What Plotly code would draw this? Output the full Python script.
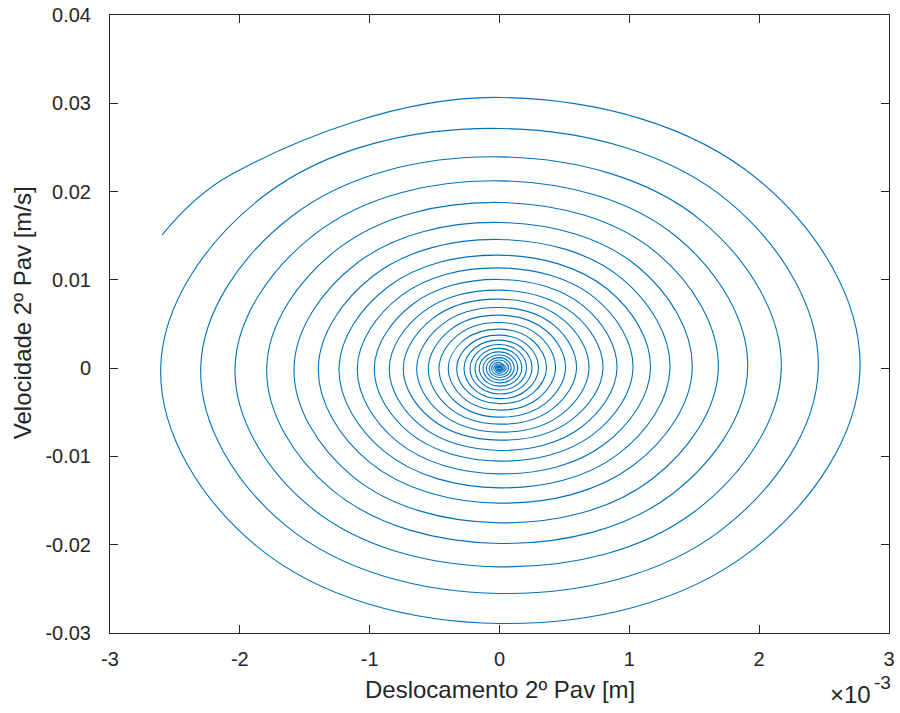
import plotly.graph_objects as go

# Phase-plane points (displacement in units of 1e-3 m, velocity in m/s)
# Outer/middle turns: 8 points per turn (top, NE, right, SE, bottom, SW, left, NW)
desloc_outer_milli = [
    -2.600, -2.0565,
    0.0, 1.9936, 2.7767, 1.9326, 0.0, -1.8736, -2.6096, -1.8163,
    0.0, 1.7630, 2.4555, 1.7091, 0.0, -1.6524, -2.3015, -1.6019,
    0.0, 1.5584, 2.1705, 1.5107, 0.0, -1.4627, -2.0373, -1.4180,
    0.0, 1.3725, 1.9117, 1.3306, 0.0, -1.2874, -1.7931, -1.2480,
    0.0, 1.2100, 1.6853, 1.1730, 0.0, -1.1364, -1.5828, -1.1017,
    0.0, 1.0662, 1.4850, 1.0336, 0.0, -1.0020, -1.3957, -0.9714,
    0.0, 0.9429, 1.3133, 0.9140, 0.0, -0.8876, -1.2362, -0.8604,
    0.0, 0.8350, 1.1631, 0.8095, 0.0, -0.7864, -1.0953, -0.7623,
    0.0, 0.7383, 1.0283, 0.7157, 0.0, -0.6924, -0.9643, -0.6712,
    0.0, 0.6498, 0.9050, 0.6299, 0.0, -0.6094, -0.8488, -0.5908,
    0.0, 0.5724, 0.7972, 0.5549, 0.0, -0.5320, -0.7410, -0.5157,
    0.0, 0.4949, 0.6894, 0.4798, 0.0, -0.4579, -0.6378, -0.4439,
    0.0, 0.4258, 0.5931, 0.4128, 0.0, -0.3937, -0.5484, -0.3817,
    0.0, 0.3650, 0.5084, 0.3538, 0.0, -0.3346, -0.4660, -0.3243,
    0.0, 0.3097, 0.4313, 0.3002, 0.0, -0.2831, -0.3944, -0.2745,
    0.0, 0.2599, 0.3620, 0.2520, 0.0, -0.2367, -0.3297, -0.2295,
    0.0, 0.2157, 0.3004, 0.2091, 0.0, -0.1963, -0.2734, -0.1903,
    0.0, 0.1797, 0.2503, 0.1742, 0.0, -0.1631, -0.2272, -0.1581,
    0.0, 0.1493, 0.2080, 0.1447, 0.0, -0.1355, -0.1887, -0.1313,
    0.0, 0.1233, 0.1718, 0.1196, 0.0, -0.1117, -0.1556, -0.1083,
    0.0, 0.1006, 0.1402, 0.0976, 0.0, -0.0907, -0.1263, -0.0879,
    0.0, 0.0813, 0.1132, 0.0788, 0.0, -0.0724, -0.1009, -0.0702,
    0.0, 0.0641, 0.0893, 0.0622, 0.0, -0.0564, -0.0786, -0.0547,
    0.0, 0.0498, 0.0693, 0.0482, 0.0, -0.0431, -0.0601, -0.0418,
    0.0,
]
veloc_outer = [
    0.01506, 0.02202,
    0.030660, 0.021339, 0.0, -0.020761, -0.028916, -0.020125, 0.0, 0.019492,
    0.027149, 0.018896, 0.0, -0.018321, -0.025518, -0.017760, 0.0, 0.017183,
    0.023932, 0.016657, 0.0, -0.016158, -0.022505, -0.015664, 0.0, 0.015231,
    0.021214, 0.014765, 0.0, -0.014255, -0.019855, -0.013819, 0.0, 0.013475,
    0.018768, 0.013062, 0.0, -0.012580, -0.017522, -0.012195, 0.0, 0.011848,
    0.016502, 0.011486, 0.0, -0.010978, -0.015291, -0.010642, 0.0, 0.010466,
    0.014577, 0.010145, 0.0, -0.009734, -0.013558, -0.009436, 0.0, 0.009189,
    0.012799, 0.008908, 0.0, -0.008596, -0.011972, -0.008332, 0.0, 0.008156,
    0.011360, 0.007907, 0.0, -0.007563, -0.010533, -0.007331, 0.0, 0.007213,
    0.010047, 0.006992, 0.0, -0.006693, -0.009322, -0.006488, 0.0, 0.006343,
    0.008835, 0.006149, 0.0, -0.005855, -0.008155, -0.005676, 0.0, 0.005611,
    0.007815, 0.005439, 0.0, -0.005204, -0.007249, -0.005045, 0.0, 0.004936,
    0.006875, 0.004785, 0.0, -0.004554, -0.006343, -0.004414, 0.0, 0.004310,
    0.006003, 0.004178, 0.0, -0.003985, -0.005550, -0.003863, 0.0, 0.003716,
    0.005176, 0.003603, 0.0, -0.003415, -0.004757, -0.003311, 0.0, 0.003171,
    0.004417, 0.003074, 0.0, -0.002887, -0.004021, -0.002798, 0.0, 0.002684,
    0.003738, 0.002601, 0.0, -0.002480, -0.003455, -0.002404, 0.0, 0.002277,
    0.003171, 0.002207, 0.0, -0.002098, -0.002922, -0.002034, 0.0, 0.001927,
    0.002684, 0.001868, 0.0, -0.001773, -0.002469, -0.001718, 0.0, 0.001610,
    0.002243, 0.001561, 0.0, -0.001464, -0.002039, -0.001419, 0.0, 0.001326,
    0.001846, 0.001285, 0.0, -0.001195, -0.001665, -0.001159, 0.0, 0.001073,
    0.001495, 0.001041, 0.0, -0.000960, -0.001337, -0.000930, 0.0, 0.000854,
    0.001189, 0.000828, 0.0, -0.000756, -0.001053, -0.000733, 0.0, 0.000659,
    0.000917, 0.000639, 0.0, -0.000577, -0.000804, -0.000560, 0.0, 0.000488,
    0.000680,
]
# Innermost turns: 4 points per turn (top, right, bottom, left)
desloc_inner_milli = [
    0.0, 0.0516, 0.0, -0.0447,
    0.0, 0.0370, 0.0, -0.0316,
    0.0, 0.0246, 0.0, -0.0208,
    0.0, 0.0146, 0.0, -0.0116,
    0.0, 0.0062,
]
veloc_inner = [
    0.000680, 0.0, -0.000589, 0.0,
    0.000476, 0.0, -0.000408, 0.0,
    0.000306, 0.0, -0.000261, 0.0,
    0.000170, 0.0, -0.000136, 0.0,
    0.000068, 0.0,
]

x_ticks_milli = [-3, -2, -1, 0, 1, 2, 3]
y_ticks = [-0.03, -0.02, -0.01, 0, 0.01, 0.02, 0.03, 0.04]
y_tick_labels = ["-0.03", "-0.02", "-0.01", "0", "0.01", "0.02", "0.03", "0.04"]

SCALE = 1e-3
color = "#0072BD"
FONT = "Liberation Sans, Arial, Helvetica, sans-serif"
TXT = "#262626"

fig = go.Figure()
fig.add_trace(go.Scatter(
    x=[v * SCALE for v in desloc_outer_milli], y=veloc_outer, mode="lines",
    line=dict(color=color, width=1.1, shape="spline", smoothing=1.1),
    hoverinfo="skip", showlegend=False))
fig.add_trace(go.Scatter(
    x=[v * SCALE for v in desloc_inner_milli], y=veloc_inner, mode="lines",
    line=dict(color=color, width=1.1, shape="spline", smoothing=1.3),
    hoverinfo="skip", showlegend=False))

axis_common = dict(
    showgrid=False, zeroline=False, showline=True, linecolor=TXT, linewidth=1,
    mirror="ticks", ticks="inside", ticklen=8, tickcolor=TXT, tickwidth=1,
    tickfont=dict(family=FONT, size=20, color=TXT), automargin=False,
)

fig.update_layout(
    width=900, height=713,
    margin=dict(l=110, r=11, t=15, b=80),
    paper_bgcolor="white", plot_bgcolor="white",
    xaxis=dict(range=[-3 * SCALE, 3 * SCALE], tickvals=[t * SCALE for t in x_ticks_milli],
               ticktext=[str(t) for t in x_ticks_milli], ticklabelstandoff=8,
               **axis_common),
    yaxis=dict(range=[-0.03, 0.04], tickvals=y_ticks, ticktext=y_tick_labels,
               ticklabelstandoff=14, **axis_common),
    annotations=[
        dict(text="Deslocamento 2º Pav [m]", xref="paper", yref="paper", x=0.5, y=-0.0922,
             xanchor="center", yanchor="middle", showarrow=False,
             font=dict(family=FONT, size=24, color=TXT)),
        dict(text="Velocidade 2º Pav [m/s]", xref="paper", yref="paper", x=-0.113, y=0.519,
             xanchor="center", yanchor="middle", textangle=-90, showarrow=False,
             font=dict(family=FONT, size=24, color=TXT)),
        dict(text="×10", xref="paper", yref="paper", x=0.979, y=-0.1003,
             xanchor="right", yanchor="middle", showarrow=False,
             font=dict(family=FONT, size=24, color=TXT)),
        dict(text="-3", xref="paper", yref="paper", x=0.978, y=-0.080,
             xanchor="left", yanchor="middle", showarrow=False,
             font=dict(family=FONT, size=19, color=TXT)),
    ],
)

fig.write_html("out.html", config={"displayModeBar": False},
               post_script="document.body.style.margin='0';document.body.style.overflow='hidden';")
